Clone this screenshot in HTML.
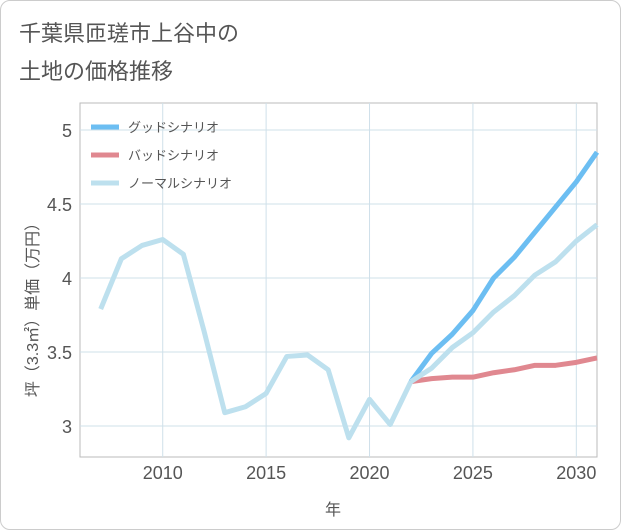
<!DOCTYPE html>
<html><head><meta charset="utf-8"><style>
body{margin:0;background:#fff;font-family:"Liberation Sans","Noto Sans CJK JP",sans-serif;}
#wrap{position:relative;width:619px;height:528px;border:1px solid #ccc;border-radius:10px;overflow:hidden;background:#fff}
</style></head><body>
<div id="wrap">
<svg id="c" width="619" height="528"></svg>
</div>
<script>
const years=[2007,2008,2009,2010,2011,2012,2013,2014,2015,2016,2017,2018,2019,2020,2021,2022,2023,2024,2025,2026,2027,2028,2029,2030,2031];
const histValues=[3.79,4.13,4.22,4.26,4.16,3.64,3.09,3.13,3.22,3.47,3.48,3.38,2.92,3.18,3.01,3.30];
const futureYears=[2022,2023,2024,2025,2026,2027,2028,2029,2030,2031];
const goodValues=[3.30,3.49,3.62,3.78,4.00,4.14,4.31,4.48,4.65,4.85];
const badValues=[3.30,3.32,3.33,3.33,3.36,3.38,3.41,3.41,3.43,3.46];
const normalValues=[3.30,3.39,3.53,3.63,3.77,3.88,4.02,4.11,4.25,4.36];
const yTicks=[3,3.5,4,4.5,5];
const xTicks=[2010,2015,2020,2025,2030];
const legendLabels=["グッドシナリオ","バッドシナリオ","ノーマルシナリオ"];
const colors=["#6cbef2","#e08890","#bde0ee"];
const svg=document.getElementById('c');const NS='http://www.w3.org/2000/svg';
const L=79,R=596,T=102,B=456;
const x=v=>L+(v-2006)*(R-L)/25;
const y=v=>425-(v-3)*148;
function el(t,a,txt){const e=document.createElementNS(NS,t);for(const k in a)e.setAttribute(k,a[k]);if(txt!==undefined)e.textContent=txt;svg.appendChild(e);return e;}
let e;
e=el('text',{x:18,y:40,'font-size':22,fill:'#555'},'千葉県匝瑳市上谷中の');


e=el('text',{x:18,y:78,'font-size':22,fill:'#555'},'土地の価格推移');


e=el('rect',{x:L,y:T,width:R-L,height:B-T,fill:'none',stroke:'#bbb'});


yTicks.forEach(v=>{
 e=el('line',{x1:L,x2:R,y1:y(v),y2:y(v),stroke:'#cfe0ea'});
 
 
 e=el('text',{x:L-8,y:y(v)+7,'font-size':18,fill:'#555','text-anchor':'end'},String(v));
 
 
});
xTicks.forEach(v=>{
 e=el('line',{x1:x(v),x2:x(v),y1:T,y2:B,stroke:'#cfe0ea'});
 
 
 e=el('text',{x:x(v),y:478,'font-size':18,fill:'#555','text-anchor':'middle'},String(v));
 
 
});
e=el('text',{x:332,y:514,'font-size':16,fill:'#555','text-anchor':'middle'},'年');


e=el('text',{x:0,y:0,'font-size':16,fill:'#555','text-anchor':'middle',transform:'translate(37,305) rotate(-90)'},'坪（3.3㎡）単価（万円）');


function pts(xs,vs){return vs.map((v,i)=>x(xs[i])+','+y(v)).join(' ');}
e=el('polyline',{points:pts(futureYears,badValues),fill:'none',stroke:colors[1],'stroke-width':5,'stroke-linejoin':'round'});


e=el('polyline',{points:pts(futureYears,goodValues),fill:'none',stroke:colors[0],'stroke-width':5,'stroke-linejoin':'round'});


e=el('polyline',{points:pts(futureYears,normalValues),fill:'none',stroke:colors[2],'stroke-width':5,'stroke-linejoin':'round'});


e=el('polyline',{points:pts(years,histValues),fill:'none',stroke:colors[2],'stroke-width':5,'stroke-linejoin':'round'});


legendLabels.forEach((lab,i)=>{
 const ly=126+i*28;
 e=el('line',{x1:90,x2:118,y1:ly,y2:ly,stroke:colors[i],'stroke-width':5});
 
 
 e=el('text',{x:127,y:ly+5,'font-size':13,fill:'#555'},lab);
 
 
});
</script>
</body></html>
